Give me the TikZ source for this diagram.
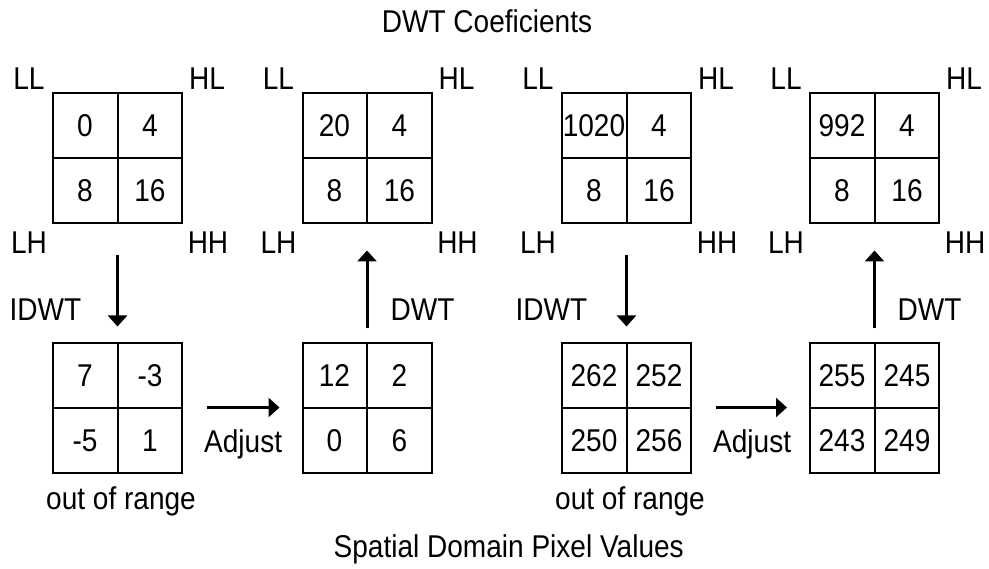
\documentclass[tikz,border=0pt]{standalone}
\usepackage{fontspec}
\setmainfont[FakeStretch=0.89]{Liberation Sans}
\usetikzlibrary{arrows.meta}

% a 2x2 block of values: name, centre x, centre y, four entries
\newcommand\valgrid[7]{%
  \node[grid] (#1) at (#2,#3) {};
  \draw[gridline] (#1.north) -- (#1.south) (#1.west) -- (#1.east);
  \node (#1-a) at (#2-32.5,#3-32.5) {#4};
  \node (#1-b) at (#2+32.5,#3-32.5) {#5};
  \node (#1-c) at (#2-32.5,#3+32.5) {#6};
  \node (#1-d) at (#2+32.5,#3+32.5) {#7};
}
% sub-band names round a coefficient block
\newcommand\bandnames[1]{%
  \node (#1-ll) at ([xshift=-23pt,yshift=14pt]#1.north west) {LL};
  \node (#1-hl) at ([xshift=24pt,yshift=14pt]#1.north east) {HL};
  \node (#1-lh) at ([xshift=-23pt,yshift=-18pt]#1.south west) {LH};
  \node (#1-hh) at ([xshift=25pt,yshift=-18pt]#1.south east) {HH};
}

\begin{document}
\begin{tikzpicture}[x=1pt,y=-1pt,
  every node/.style={font=\fontsize{31.5}{38}\selectfont, inner sep=0pt},
  grid/.style={draw, line width=2pt, minimum width=129pt, minimum height=130pt},
  gridline/.style={line width=2pt},
  flow/.style={line width=3pt, -{Triangle[length=11pt,width=19pt]}},
]
\useasboundingbox (0,0) rectangle (989,569);

% coefficient blocks (top row)
\valgrid{t1}{117.5}{158.5}{0}{4}{8}{16}
\valgrid{t2}{367}{158.5}{20}{4}{8}{16}
\valgrid{t3}{626.5}{158.5}{1020}{4}{8}{16}
\valgrid{t4}{874.5}{158.5}{992}{4}{8}{16}
\bandnames{t1}
\bandnames{t2}
\bandnames{t3}
\bandnames{t4}

% pixel blocks (bottom row)
\valgrid{b1}{117.5}{408.5}{7}{-3}{-5}{1}
\valgrid{b2}{367}{408.5}{12}{2}{0}{6}
\valgrid{b3}{626.5}{408.5}{262}{252}{250}{256}
\valgrid{b4}{874.5}{408.5}{255}{245}{243}{249}

% transforms
\draw[flow] ([yshift=-31pt]t1.south) -- ([yshift=16pt]b1.north);
\draw[flow] ([yshift=-31pt]t3.south) -- ([yshift=16pt]b3.north);
\draw[flow] ([yshift=14pt]b2.north) -- ([yshift=-26pt]t2.south);
\draw[flow] ([yshift=14pt]b4.north) -- ([yshift=-26pt]t4.south);
\draw[flow] ([xshift=24pt,yshift=1pt]b1.east) -- ([xshift=-22pt,yshift=1pt]b2.west);
\draw[flow] ([xshift=24pt,yshift=1pt]b3.east) -- ([xshift=-22pt,yshift=1pt]b4.west);

\node[anchor=west] (idwt1) at (9.5,309.5) {IDWT};
\node[anchor=west] (idwt2) at (515.5,309.5) {IDWT};
\node[anchor=west] (dwt1) at (390.5,309.5) {DWT};
\node[anchor=west] (dwt2) at (897.5,309.5) {DWT};
\node[anchor=base west] (adj1) at (204,453) {Adjust};
\node[anchor=base west] (adj2) at (713,453) {Adjust};
\node[anchor=base west] (oor1) at (46,510) {out of range};
\node[anchor=base west] (oor2) at (555,510) {out of range};

\node (title) at (487,21.5) {DWT Coeficients};
\node[anchor=base west] (caption) at (333.5,557) {Spatial Domain Pixel Values};
\end{tikzpicture}
\end{document}
